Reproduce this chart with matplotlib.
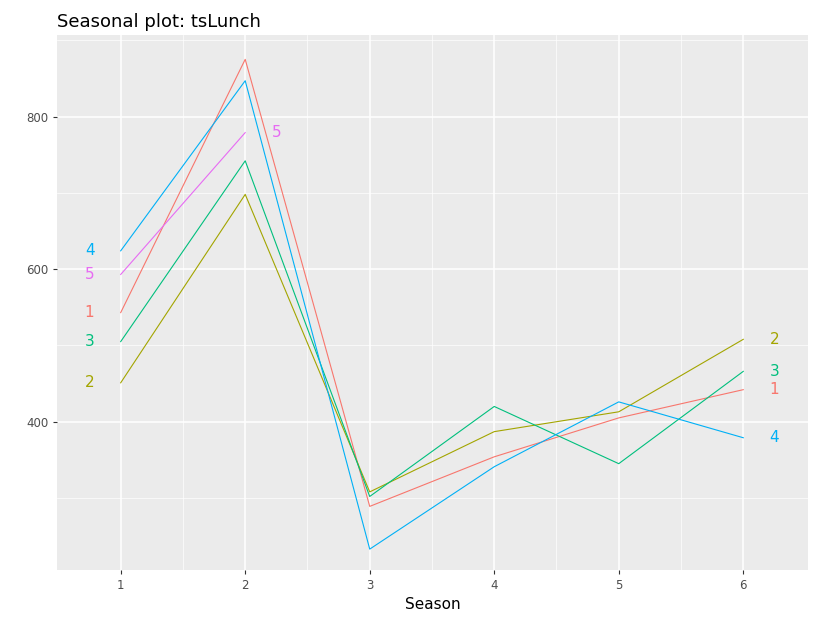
import matplotlib.pyplot as plt

seasons = [1, 2, 3, 4, 5, 6]
years = ['1', '2', '3', '4', '5']
colors = ['#F8766D', '#A3A500', '#00BF7D', '#00B0F6', '#E76BF3']
values = [
    [543, 875, 289, 354, 405, 442],
    [451, 698, 308, 387, 413, 508],
    [505, 742, 302, 420, 345, 466],
    [624, 847, 233, 341, 426, 379],
    [593, 779],
]

fig = plt.figure(figsize=(8.17, 6.24), dpi=100)
ax = fig.add_axes([0.07, 0.087, 0.919, 0.857])
ax.set_facecolor('#EBEBEB')
for s in ax.spines.values():
    s.set_visible(False)

for lab, col, v in zip(years, colors, values):
    xs = seasons[:len(v)]
    ax.plot(xs, v, color=col, lw=0.8)
    ax.text(xs[0] - 0.25, v[0], lab, color=col, fontsize=11, ha='center', va='center')
    ax.text(xs[-1] + 0.25, v[-1], lab, color=col, fontsize=11, ha='center', va='center')

ax.set_xlim(0.49, 6.52)
ax.set_ylim(206, 907)
ax.set_xticks(seasons)
ax.set_yticks([400, 600, 800])
ax.set_yticks([300, 500, 700, 900], minor=True)
ax.set_xticks([1.5, 2.5, 3.5, 4.5, 5.5], minor=True)
ax.grid(True, which='major', color='white', lw=1.1)
ax.grid(True, which='minor', color='white', lw=0.5)
ax.set_axisbelow(True)
ax.tick_params(which='both', length=3, color='#333333', labelsize=8.5, labelcolor='#4D4D4D')
ax.tick_params(which='minor', length=0)
ax.set_xlabel('Season', fontsize=11)
ax.set_title('Seasonal plot: tsLunch', loc='left', fontsize=13)
fig.savefig('out.png')
